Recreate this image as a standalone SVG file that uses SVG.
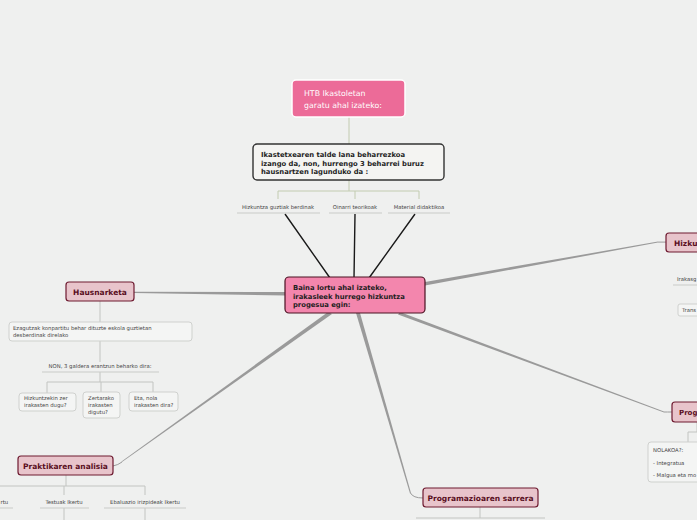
<svg xmlns="http://www.w3.org/2000/svg" width="697" height="520" viewBox="0 0 697 520">
<style>
text{font-family:"DejaVu Sans","Verdana",sans-serif}
.sub{fill:#e8c4cb;stroke:#6e1a30;stroke-width:1.2}
.subt{font-size:7.5px;font-weight:bold;fill:#5a0f22;text-anchor:middle}
.subl{font-size:7.5px;font-weight:bold;fill:#5a0f22}
.sm{font-size:5.3px;fill:#444}
.smc{font-size:5.3px;fill:#444;text-anchor:middle}
.ul{stroke:#c9cbc8;stroke-width:1;fill:none}
.br{stroke:#c2c4c1;stroke-width:1;fill:none}
.gbr{stroke:#c2cbb0;stroke-width:1;fill:none}
.box{fill:#f4f5f4;stroke:#cfd1ce;stroke-width:1}
.main{font-size:6.8px;font-weight:bold;fill:#1e1e1e}
.taper{fill:#9a9a9a}
.thin{stroke:#9a9a9a;stroke-width:1;fill:none}
.blk{stroke:#1a1a1a;stroke-width:1.4;fill:none}
</style>
<rect width="697" height="520" fill="#eff0ef"/>

<g id="connectors">
  <path class="gbr" d="M349 117V144" stroke-width="1.5"/>
  <path class="gbr" d="M349 180V191M278 199V191H419V199M355 191V199"/>
  <path class="blk" d="M285 214L330 278M355 214L354 278M415 214L369 278"/>
  <polygon class="taper" points="285,292 285,295.5 134,293 134,291.8"/>
  <polygon class="taper" points="425,282 425,285.5 658,242.6 658,241.6"/>
  <path class="thin" d="M658 242.1H666"/>
  <polygon class="taper" points="400,312 398,314.5 664,412.5 664,411.5"/>
  <path class="thin" d="M664 412Q667 412 672 412"/>
  <polygon class="taper" points="356,313 360,313 411,493 410,493.5"/>
  <path class="thin" d="M410.5 493Q413 498 423 498"/>
  <polygon class="taper" points="328,312 332,314 122,462 121.5,461.5"/>
  <path class="thin" d="M122 462Q118 465 113 466"/>
  <path class="br" d="M100 301V322M100 341V362M100 372V382M47 393V382H153V392M101 382V392"/>
  <path class="br" d="M66 475V486M0 486H145V495M64 486V495M64 508V520M145 508V520"/>
  <path class="br" d="M480 507V518M416 518H545"/>
  <path class="br" d="M697 422V432H688V442"/>
</g>

<g id="htb">
  <rect x="292" y="80" width="113" height="37" rx="4" fill="#ec6b98" stroke="#ffffff" stroke-width="1.5"/>
  <text x="304" y="96" font-size="7.8px" fill="#ffffff">HTB Ikastoletan</text>
  <text x="304" y="108" font-size="7.8px" fill="#ffffff">garatu ahal izateko:</text>
</g>

<g id="talde-lana">
  <rect x="253" y="144" width="191" height="36" rx="4" fill="#f4f4f2" stroke="#333" stroke-width="1.4"/>
  <text class="main" x="261" y="157">Ikastetxearen talde lana beharrezkoa</text>
  <text class="main" x="261" y="165.5">izango da, non, hurrengo 3 beharrei buruz</text>
  <text class="main" x="261" y="174">hausnartzen lagunduko da :</text>
</g>

<g id="hizkuntza-guztiak">
  <text class="smc" x="278" y="209">Hizkuntza guztiak berdinak</text>
  <path class="ul" d="M237 213H320"/>
</g>
<g id="oinarri">
  <text class="smc" x="355" y="209">Oinarri teorikoak</text>
  <path class="ul" d="M329 213H382"/>
</g>
<g id="material">
  <text class="smc" x="419" y="209">Material didaktikoa</text>
  <path class="ul" d="M388 213H450"/>
</g>

<g id="central">
  <rect x="285" y="277" width="140" height="36" rx="4" fill="#f386ad" stroke="#4a1222" stroke-width="1.2"/>
  <text class="main" x="293" y="290">Baina lortu ahal izateko,</text>
  <text class="main" x="293" y="298.5">irakasleek hurrego hizkuntza</text>
  <text class="main" x="293" y="307">progesua egin:</text>
</g>

<g id="hausnarketa">
  <rect class="sub" x="66" y="282" width="68" height="19" rx="3"/>
  <text class="subt" x="100" y="295">Hausnarketa</text>
</g>
<g id="ezagutzak">
  <rect class="box" x="9" y="322" width="183" height="19" rx="3"/>
  <text class="sm" x="13" y="330">Ezagutzak konpartitu behar dituzte eskola guztietan</text>
  <text class="sm" x="13" y="337">desberdinak direlako</text>
</g>
<g id="non">
  <text class="smc" x="100" y="368">NON, 3 galdera erantzun beharko dira:</text>
  <path class="ul" d="M42 372H159"/>
</g>
<g id="zer">
  <rect class="box" x="19" y="393" width="57" height="18" rx="3"/>
  <text class="sm" x="24" y="400">Hizkuntzekin zer</text>
  <text class="sm" x="24" y="407">irakasten dugu?</text>
</g>
<g id="zertarako">
  <rect class="box" x="83" y="392" width="37" height="26" rx="3"/>
  <text class="sm" x="88" y="400">Zertarako</text>
  <text class="sm" x="88" y="407">irakasten</text>
  <text class="sm" x="88" y="414">digutu?</text>
</g>
<g id="nola">
  <rect class="box" x="129" y="392" width="49" height="19" rx="3"/>
  <text class="sm" x="134" y="400">Eta, nola</text>
  <text class="sm" x="134" y="407">irakasten dira?</text>
</g>

<g id="praktikaren">
  <rect class="sub" x="18" y="456" width="95" height="19" rx="3"/>
  <text class="subt" x="65.5" y="469">Praktikaren analisia</text>
</g>
<g id="ikertu1">
  <text class="sm" x="0.5" y="504">rtu</text>
  <path class="ul" d="M0 508H13"/>
</g>
<g id="testuak">
  <text class="smc" x="64" y="504">Testuak Ikertu</text>
  <path class="ul" d="M40 508H89"/>
</g>
<g id="ebaluazio">
  <text class="smc" x="145" y="504">Ebaluazio irizpideak Ikertu</text>
  <path class="ul" d="M104 508H186"/>
</g>

<g id="sarrera">
  <rect class="sub" x="423" y="488" width="115" height="19" rx="3"/>
  <text class="subt" x="480.5" y="501">Programazioaren sarrera</text>
</g>

<g id="hizkuntza-right">
  <rect class="sub" x="666" y="233" width="50" height="19" rx="3"/>
  <text class="subl" x="674" y="246">Hizku</text>
</g>
<g id="irakasg">
  <text class="sm" x="677" y="281">Irakasg</text>
  <path class="ul" d="M673 285H697"/>
</g>
<g id="trans">
  <rect class="box" x="678" y="304" width="30" height="12" rx="2"/>
  <text class="sm" x="682" y="312">Trans</text>
</g>

<g id="prog-right">
  <rect class="sub" x="672" y="402" width="50" height="20" rx="3"/>
  <text class="subl" x="679" y="415" font-size="7px" style="font-size:7px">Prog</text>
</g>
<g id="nolakoa">
  <rect class="box" x="648" y="442" width="60" height="40" rx="3"/>
  <text class="sm" x="653" y="452">NOLAKOA?:</text>
  <text class="sm" x="653" y="465">- Integratua</text>
  <text class="sm" x="653" y="477">- Malgua eta mo</text>
</g>
</svg>
